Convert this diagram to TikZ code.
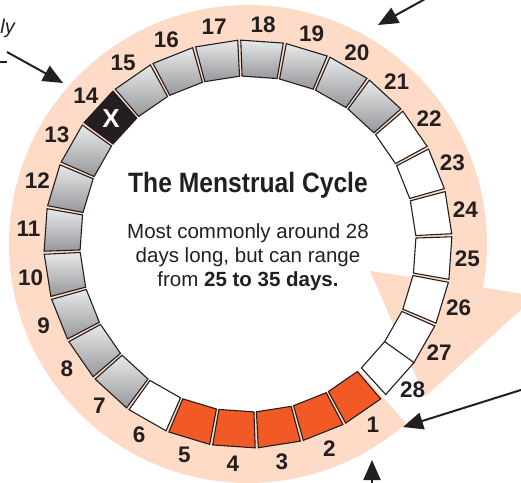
\documentclass[tikz,border=0pt]{standalone}
\usepackage{fontspec}
\setmainfont{Liberation Sans}
\setsansfont{Liberation Sans}
\newfontfamily\condfont{Liberation Sans}[FakeStretch=0.88]
\usepackage{xcolor}
\usepackage{tikz}
\usetikzlibrary{arrows.meta}
\definecolor{mcPeach}{HTML}{FDDBC6}
\definecolor{mcOrange}{HTML}{F15A24}
\definecolor{mcInk}{HTML}{231F20}
\definecolor{mcGrayTop}{HTML}{E8E9EA}
\definecolor{mcGrayBot}{HTML}{95979A}
% one day of the ring: #1 day number, #2 box style
\newcommand{\daybox}[2]{%
  \pgfmathsetmacro\da{-55.4-(#1-1)*12.857+(#1==28)*1}%
  \path[#2] ({\da-6}:168) -- ({\da+6}:168) -- ({\da+6}:204) -- ({\da-6}:204) -- cycle;
  \node[daynum] (d#1) at (\da:220) {#1};%
}

\begin{document}
\begin{tikzpicture}[
  x=1pt, y=1pt,
  font=\sffamily,
  daynum/.style={font=\fontsize{22.5}{22.5}\selectfont\bfseries, text=mcInk, inner sep=0pt},
  menses/.style={fill=mcOrange, draw=mcInk, line width=1.1pt},
  plain/.style={fill=white, draw=mcInk, line width=1.1pt},
  fertile/.style={top color=mcGrayTop, bottom color=mcGrayBot, draw=mcInk, line width=1.1pt},
  ovul/.style={fill=mcInk, draw=mcInk, line width=1.1pt},
  ttl/.style={font=\condfont\bfseries\fontsize{28}{30}\selectfont, text=mcInk},
  blurb/.style={font=\fontsize{20.5}{24}\selectfont, text=mcInk, align=center},
  pointer/.style={-{Triangle[length=20pt, width=17pt]}, line width=2pt, draw=mcInk},
]
\useasboundingbox (-248,-238) rectangle (273,244);
\clip (-248,-238) rectangle (273,244);

% ── Peach band: circular arrow from day 1 round to the head near day 27 ─────
\coordinate (wingL) at (122,-27);
\coordinate (wingR) at (288,-52);
\coordinate (tip)   at (177,-153);
\fill[mcPeach] (-48.6:239) arc[start angle=-48.6, end angle=-370.54, radius=239]
  -- (wingR) -- (tip) -- (wingL) -- (-371.43:168)
  arc[start angle=-371.43, end angle=-48.6, radius=168] -- cycle;

% ── Day boxes and numbers ────────────────────────────────────────────────
\foreach \d in {1,...,5}{ \daybox{\d}{menses} }
\daybox{6}{plain}
\foreach \d in {7,...,13}{ \daybox{\d}{fertile} }
\daybox{14}{ovul}
\foreach \d in {15,...,21}{ \daybox{\d}{fertile} }
\foreach \d in {22,...,28}{ \daybox{\d}{plain} }
\node[font=\fontsize{26}{26}\selectfont\bfseries, text=white] (xmark) at (-55.4-13*12.857:186) {X};

% ── Centre text ──────────────────────────────────────────────────────────
\node[ttl] (title) at (0,59) {The Menstrual Cycle};
\node[blurb] (note) at (0,-13) {Most commonly around 28\\days long, but can range\\from \textbf{25 to 35 days.}};

% ── Pointers coming in from the edges ───────────────────────────────────
\node[font=\fontsize{20}{20}\selectfont\itshape, text=mcInk, anchor=east, inner sep=0pt] (ly) at (-233,216) {ly};
\draw[mcInk, line width=1.2pt] (-248,182) -- (-241,182);
\coordinate (p1s) at (-241,192);  \coordinate (p1e) at (-185,161);
\coordinate (p2s) at (197,256);   \coordinate (p2e) at (130,219);
\coordinate (p3s) at (292,-140);  \coordinate (p3e) at (155,-183);
\coordinate (p4s) at (124,-250);  \coordinate (p4e) at (124,-216);
\foreach \p in {p1,p2,p3,p4}{ \draw[pointer] (\p s) -- (\p e); }

\end{tikzpicture}
\end{document}
